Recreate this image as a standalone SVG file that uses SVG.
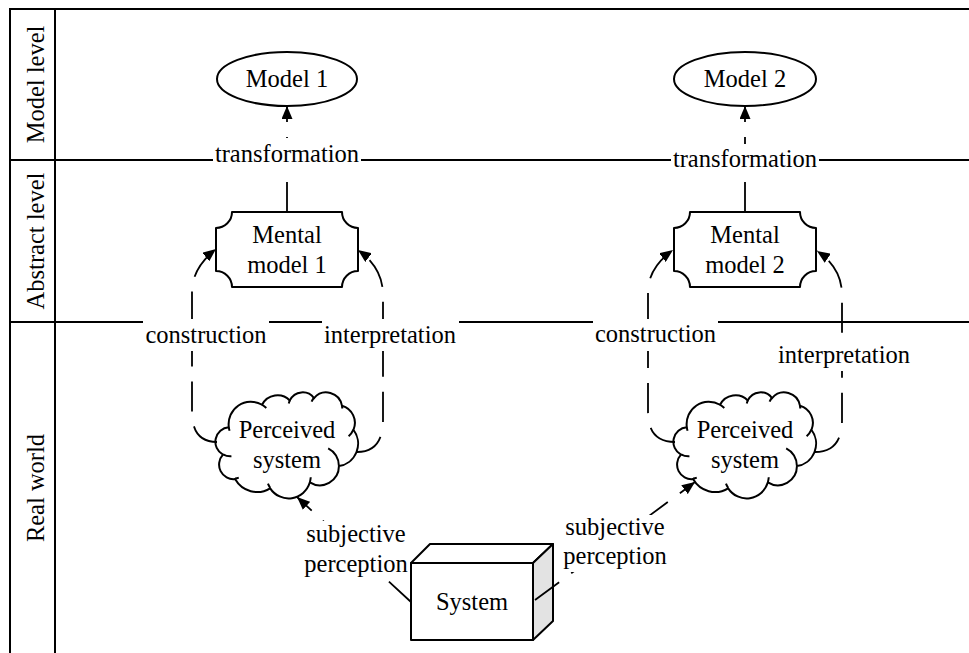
<svg xmlns="http://www.w3.org/2000/svg" width="969" height="653" viewBox="0 0 969 653" font-family="Liberation Serif, Times New Roman, serif" font-size="24.5">
<style>
  .t { font-family: "Liberation Serif", serif; font-size: 24.5px; fill: #000; }
  .c { text-anchor: middle; }
  .lane { fill: none; stroke: #000; stroke-width: 2; }
  .shape { fill: #fff; stroke: #000; stroke-width: 2; stroke-linejoin: round; }
  .hook { fill: none; stroke: #000; stroke-width: 2; }
  .edge { fill: none; stroke: #000; stroke-width: 1.8; stroke-dasharray: 30 15; marker-end: url(#arrow); }
  .bg { fill: #fff; stroke: none; }
</style>
<defs>
  <marker id="arrow" viewBox="0 0 13 11" refX="13" refY="5.5" markerWidth="13" markerHeight="11" markerUnits="userSpaceOnUse" orient="auto">
    <path d="M0,0 L13,5.5 L0,11 Z" fill="#000"/>
  </marker>
  <!-- scalloped cloud outline, 142 x 106 box -->
  <path id="cloudOutline" d="M12.82,35.26 A22.20,22.55 0 0 1 46.03,12.76 A17.53,17.83 0 0 1 73.81,8.42 A14.35,14.59 0 0 1 98.06,6.09 A15.97,16.18 0 0 1 125.95,13.68 A17.53,17.85 0 0 1 137.46,37.93 A22.27,22.62 0 0 1 122.95,74.11 A19.02,19.30 0 0 1 93.86,90.33 A22.19,22.61 0 0 1 54.17,96.34 A25.38,25.87 0 0 1 19.08,87.03 A14.33,14.52 0 0 1 6.95,62.69 A14.28,14.59 0 0 1 12.82,35.26 Z"/>
  <!-- inner hooks between the scallops -->
  <path id="cloudHooks" d="M15.43,64.23 A14.28,14.59 0 0 1 7.10,62.28 M22.77,85.63 A14.33,14.52 0 0 1 19.13,86.57 M54.16,95.92 A22.19,22.61 0 0 1 51.97,91.65 M94.75,85.27 A22.19,22.61 0 0 1 93.88,89.95 M112.18,56.32 A19.02,19.30 0 0 1 122.87,73.83 M137.39,37.67 A17.53,17.85 0 0 1 132.63,44.24 M125.97,13.31 A15.97,16.18 0 0 1 126.22,16.42 M95.58,9.70 A15.97,16.18 0 0 1 98.02,5.74 M72.78,11.58 A14.35,14.59 0 0 1 73.96,8.17 M46.02,12.74 A22.20,22.55 0 0 1 50.29,16.05 M13.57,38.74 A22.20,22.55 0 0 1 12.82,35.26"/>
</defs>

<rect x="0" y="0" width="969" height="653" fill="#fff"/>

<!-- swimlane frame -->
<g id="lanes">
  <path class="lane" d="M10,653 V9 H969 M55,9 V653 M10,160 H969 M10,322 H969"/>
  <text class="t c" transform="translate(44,84.5) rotate(-90)">Model level</text>
  <text class="t c" transform="translate(44,241) rotate(-90)">Abstract level</text>
  <text class="t c" transform="translate(44,488) rotate(-90)">Real world</text>
</g>

<!-- nodes -->
<g id="model1">
  <ellipse class="shape" cx="287" cy="79" rx="70" ry="27"/>
  <text class="t c" x="287" y="87">Model 1</text>
</g>
<g id="model2">
  <ellipse class="shape" cx="745" cy="79" rx="71" ry="27"/>
  <text class="t c" x="745" y="87">Model 2</text>
</g>
<g id="mentalModel1">
  <path class="shape" d="M232,212 H342 A16,16 0 0 0 358,228 V271 A16,16 0 0 0 342,287 H232 A16,16 0 0 0 216,271 V228 A16,16 0 0 0 232,212 Z"/>
  <text class="t c" x="287" y="243">Mental</text>
  <text class="t c" x="287" y="273">model 1</text>
</g>
<g id="mentalModel2">
  <path class="shape" d="M690,212 H800 A16,16 0 0 0 816,228 V271 A16,16 0 0 0 800,287 H690 A16,16 0 0 0 674,271 V228 A16,16 0 0 0 690,212 Z"/>
  <text class="t c" x="745" y="243">Mental</text>
  <text class="t c" x="745" y="273">model 2</text>
</g>
<g id="perceivedSystem1">
  <g transform="translate(216,392)">
    <use href="#cloudOutline" class="shape"/>
    <use href="#cloudHooks" class="hook"/>
  </g>
  <text class="t c" x="287" y="438">Perceived</text>
  <text class="t c" x="287" y="468">system</text>
</g>
<g id="perceivedSystem2">
  <g transform="translate(674,392)">
    <use href="#cloudOutline" class="shape"/>
    <use href="#cloudHooks" class="hook"/>
  </g>
  <text class="t c" x="745" y="438">Perceived</text>
  <text class="t c" x="745" y="468">system</text>
</g>
<g id="system">
  <path class="shape" d="M411,563 L430,544 H553 L533,563 Z"/>
  <path class="shape" d="M533,563 L553,544 V621 L533,640 Z" style="fill:#e3e3e3"/>
  <rect class="shape" x="411" y="563" width="122" height="77"/>
  <text class="t c" x="472" y="610">System</text>
</g>

<!-- connectors -->
<g id="connectors">
  <path class="edge" d="M287,212 V106"/>
  <path class="edge" d="M745,212 V106"/>
  <path class="edge" d="M217,442 Q192,442 192,412 V292 Q192,268 216,249"/>
  <path class="edge" d="M357,452 Q383,452 383,420 V295 Q383,268 358,250"/>
  <path class="edge" d="M675,442 Q648,442 648,412 V292 Q648,268 673,250"/>
  <path class="edge" d="M815,452 Q842,452 842,420 V295 Q842,268 817,251"/>
  <path class="edge" d="M411,602 L297,497"/>
  <path class="edge" d="M535,600 L695,482"/>

  <g id="labels">
    <rect class="bg" x="213" y="138" width="148" height="29"/>
    <text class="t c" x="287" y="162">transformation</text>
    <rect class="bg" x="671" y="144" width="148" height="29"/>
    <text class="t c" x="745" y="167">transformation</text>
    <rect class="bg" x="143" y="319" width="126" height="32"/>
    <text class="t c" x="206" y="343">construction</text>
    <rect class="bg" x="322" y="319" width="137" height="32"/>
    <text class="t c" x="390" y="343">interpretation</text>
    <rect class="bg" x="593" y="319" width="125" height="32"/>
    <text class="t c" x="655.5" y="342">construction</text>
    <rect class="bg" x="776" y="333" width="137" height="38"/>
    <text class="t c" x="844" y="363">interpretation</text>
    <rect class="bg" x="302" y="521" width="108" height="58"/>
    <text class="t c" x="356" y="542">subjective</text>
    <text class="t c" x="356" y="572">perception</text>
    <rect class="bg" x="561" y="515" width="108" height="57"/>
    <text class="t c" x="615" y="535">subjective</text>
    <text class="t c" x="615" y="564">perception</text>
  </g>
</g>
</svg>
